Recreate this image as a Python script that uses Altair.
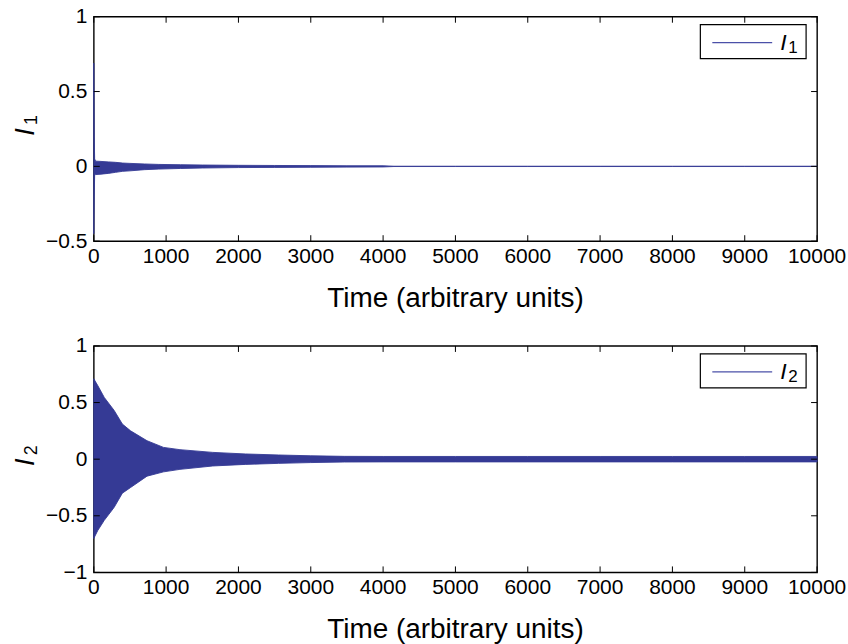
import altair as alt
import pandas as pd

# ---- data (envelope of the dense oscillation) ----
t1 = [0, 6, 12, 25, 100, 200, 300, 400, 500, 700, 900, 1200, 1500, 2000, 2500, 3000, 3500, 4000, 4150, 5000, 6000, 7000, 8000, 9000, 10000]
up1 = [0.69, 0.20, 0.05, 0.035, 0.033, 0.030, 0.027, 0.022, 0.020, 0.016, 0.013, 0.011, 0.009, 0.007, 0.006, 0.005, 0.004, 0.004, 0.001, 0.001, 0.001, 0.001, 0.001, 0.001, 0.001]
lo1 = [-0.45, -0.20, -0.06, -0.055, -0.052, -0.047, -0.040, -0.033, -0.030, -0.022, -0.018, -0.014, -0.011, -0.008, -0.007, -0.006, -0.005, -0.004, -0.001, -0.001, -0.001, -0.001, -0.001, -0.001, -0.001]

t2 = [0, 55, 145, 282, 395, 509, 736, 964, 1191, 1645, 2100, 2555, 3000, 3464, 4000, 5000, 6000, 7000, 8000, 9000, 10000]
up2 = [0.71, 0.65, 0.545, 0.43, 0.31, 0.25, 0.163, 0.104, 0.084, 0.060, 0.046, 0.037, 0.030, 0.025, 0.024, 0.024, 0.024, 0.024, 0.024, 0.024, 0.024]
lo2 = [-0.70, -0.63, -0.54, -0.425, -0.30, -0.25, -0.150, -0.112, -0.090, -0.060, -0.046, -0.037, -0.030, -0.025, -0.024, -0.024, -0.024, -0.024, -0.024, -0.024, -0.024]

xticks = [0, 1000, 2000, 3000, 4000, 5000, 6000, 7000, 8000, 9000, 10000]
yticks1 = [-0.5, 0, 0.5, 1]
yticks2 = [-1, -0.5, 0, 0.5, 1]
x_title = "Time (arbitrary units)"

BLUE = "#353a95"
LEG_BLUE = "#4b50a8"
FONT = "Liberation Sans"
W = 725


def panel(t, up, lo, yticks, ydom, H, sub, frame_top, frame_bottom):
    df = pd.DataFrame({"t": t, "up": up, "lo": lo})
    xs = alt.Scale(domain=[0, 10000], nice=False, zero=False)
    ys = alt.Scale(domain=ydom, nice=False, zero=False)
    yax = alt.Axis(values=yticks, format="~g", title=None,
                   labelFlush=False, labelOverlap=False, labelBound=False)

    def X(f):
        return alt.X(f, scale=xs, axis=None)

    def Y(f):
        return alt.Y(f, scale=ys, axis=yax)

    one = pd.DataFrame({"a": [0]})
    # invisible frame that fixes the outer bounds of the page
    frame = alt.Chart(one).mark_rect(fill="white", fillOpacity=0, strokeOpacity=0).encode(
        x=alt.value(-93), x2=alt.value(W + 30), y=alt.value(frame_top), y2=alt.value(frame_bottom))

    area = alt.Chart(df).mark_area(color=BLUE, stroke=BLUE, strokeWidth=0.9).encode(
        x=X("t:Q"), y=Y("up:Q"), y2="lo:Q")

    xt = pd.DataFrame({"v": xticks})
    yt = pd.DataFrame({"v": yticks})
    tb = alt.Chart(xt).mark_rule(color="black", strokeWidth=1).encode(
        x=X("v:Q"), y=alt.value(H), y2=alt.value(H - 6))
    tt = alt.Chart(xt).mark_rule(color="black", strokeWidth=1).encode(
        x=X("v:Q"), y=alt.value(0), y2=alt.value(6))
    tl = alt.Chart(yt).mark_rule(color="black", strokeWidth=1).encode(
        y=Y("v:Q"), x=alt.value(0), x2=alt.value(6))
    tr = alt.Chart(yt).mark_rule(color="black", strokeWidth=1).encode(
        y=Y("v:Q"), x=alt.value(W), x2=alt.value(W - 6))

    # x tick labels and x title
    xl = alt.Chart(xt).mark_text(font=FONT, fontSize=21, color="black", align="center",
                                 baseline="alphabetic").encode(
        x=X("v:Q"), y=alt.value(H + 22), text=alt.Text("v:Q", format="d"))
    xtitle = alt.Chart(one).mark_text(text=x_title, font=FONT, fontSize=28, color="black",
                                      align="center", baseline="alphabetic").encode(
        x=alt.value(W / 2), y=alt.value(H + 66))

    box = alt.Chart(one).mark_rect(fill="white", stroke="black", strokeWidth=1.2).encode(
        x=alt.value(608), x2=alt.value(714), y=alt.value(8), y2=alt.value(42))
    lline = alt.Chart(one).mark_rule(color=LEG_BLUE, strokeWidth=1.2).encode(
        x=alt.value(620), x2=alt.value(680), y=alt.value(26))
    li = alt.Chart(one).mark_text(text="I", font=FONT, fontStyle="italic", fontSize=23,
                                  align="left", baseline="alphabetic", color="black").encode(
        x=alt.value(688), y=alt.value(33))
    ls = alt.Chart(one).mark_text(text=sub, font=FONT, fontSize=17,
                                  align="left", baseline="alphabetic", color="black").encode(
        x=alt.value(696), y=alt.value(36))

    yi = alt.Chart(one).mark_text(text="I", font=FONT, fontStyle="italic", fontSize=27,
                                  angle=270, align="center", baseline="alphabetic", color="black").encode(
        x=alt.value(-60), y=alt.value(H / 2 + 3))
    ysb = alt.Chart(one).mark_text(text=sub, font=FONT, fontSize=18,
                                   angle=270, align="center", baseline="alphabetic", color="black").encode(
        x=alt.value(-57), y=alt.value(H / 2 - 9))

    return alt.layer(frame, area, tb, tt, tl, tr, xl, xtitle, box, lline, li, ls, yi, ysb).properties(width=W, height=H)


top = panel(t1, up1, lo1, yticks1, [-0.5, 1], 225, "1", -15, 225)
bottom = panel(t2, up2, lo2, yticks2, [-1, 1], 227, "2", 0, 227 + 72)

chart = alt.vconcat(top, bottom, spacing=105, bounds="flush").properties(
    padding=0,
    background="white",
).configure_view(
    stroke="black", strokeWidth=1.4
).configure_axis(
    domain=False, ticks=False, grid=False,
    labelFont=FONT, labelFontSize=21, labelColor="black",
).configure_axisY(labelPadding=7)

chart.save("out.html", embed_options={"renderer": "svg", "actions": False})
